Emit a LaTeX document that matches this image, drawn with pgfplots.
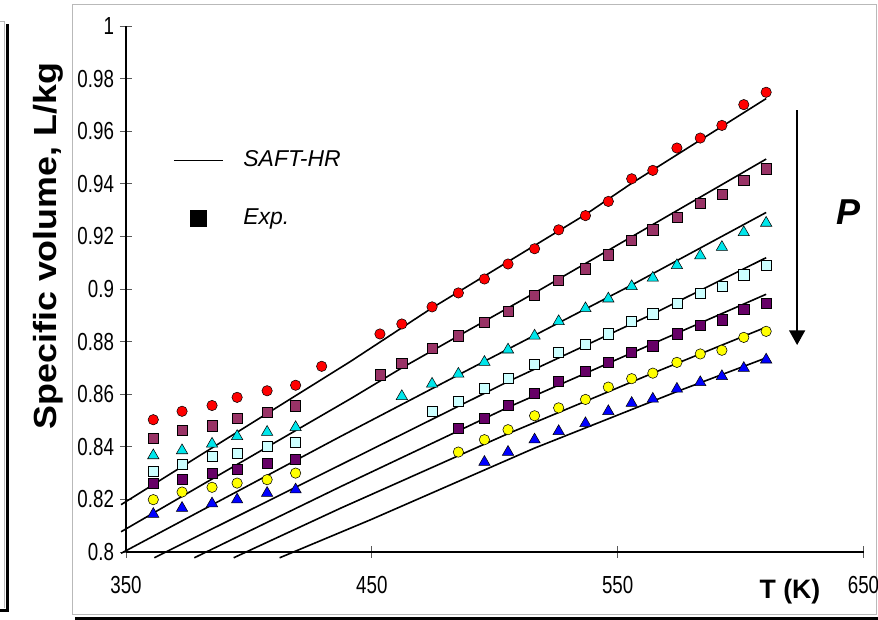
\documentclass[border=0pt]{standalone}
\usepackage{fontspec}
\setmainfont{Liberation Sans}
\newfontfamily\narrowfont[FakeStretch=0.76]{Liberation Sans}
\newfontfamily\ylabfont[FakeStretch=1.12]{Liberation Sans Bold}
\usepackage{pgfplots}
\pgfplotsset{compat=1.18}
\usepackage{pgfplotstable}
\usetikzlibrary{arrows.meta}

% Experimental specific volumes (T in K, v in L/kg), one table per pressure
\pgfplotstableread{
T v
361.1 0.8503
372.8 0.8535
385.0 0.8557
395.2 0.8588
407.4 0.8613
419.0 0.8634
429.6 0.8706
453.3 0.8829
462.2 0.8867
474.5 0.8932
485.2 0.8985
495.8 0.9038
505.4 0.9095
516.2 0.9153
526.0 0.9225
536.9 0.9279
546.2 0.9333
555.7 0.9419
564.3 0.9451
574.1 0.9536
583.6 0.9574
592.4 0.9622
601.3 0.9701
610.4 0.9748
}\expA
\pgfplotstableread{
T v
361.1 0.8433
372.8 0.8462
385.0 0.8480
395.2 0.8509
407.4 0.8532
419.0 0.8556
453.3 0.8674
462.2 0.8718
474.5 0.8776
485.2 0.8822
495.8 0.8875
505.4 0.8915
516.2 0.8976
526.0 0.9032
536.9 0.9077
546.2 0.9130
555.7 0.9184
564.3 0.9225
574.1 0.9272
583.6 0.9327
592.4 0.9359
601.3 0.9413
610.4 0.9457
}\expB
\pgfplotstableread{
T v
361.1 0.8367
372.8 0.8386
385.0 0.8411
395.2 0.8440
407.4 0.8456
419.0 0.8474
462.2 0.8592
474.5 0.8639
485.2 0.8677
495.8 0.8722
505.4 0.8769
516.2 0.8822
526.0 0.8877
536.9 0.8926
546.2 0.8963
555.7 0.9010
564.3 0.9042
574.1 0.9090
583.6 0.9127
592.4 0.9159
601.3 0.9215
610.4 0.9251
}\expC
\pgfplotstableread{
T v
361.1 0.8306
372.8 0.8332
385.0 0.8364
395.2 0.8376
407.4 0.8402
419.0 0.8417
474.5 0.8535
485.2 0.8573
495.8 0.8621
505.4 0.8659
516.2 0.8715
526.0 0.8759
536.9 0.8790
546.2 0.8830
555.7 0.8876
564.3 0.8906
574.1 0.8946
583.6 0.8984
592.4 0.9010
601.3 0.9054
610.4 0.9089
}\expD
\pgfplotstableread{
T v
361.1 0.8262
372.8 0.8275
385.0 0.8300
395.2 0.8313
407.4 0.8338
419.0 0.8354
485.2 0.8469
495.8 0.8509
505.4 0.8557
516.2 0.8605
526.0 0.8649
536.9 0.8688
546.2 0.8721
555.7 0.8759
564.3 0.8784
574.1 0.8830
583.6 0.8862
592.4 0.8883
601.3 0.8924
610.4 0.8947
}\expE
\pgfplotstableread{
T v
361.1 0.8199
372.8 0.8228
385.0 0.8246
395.2 0.8262
407.4 0.8275
419.0 0.8300
485.2 0.8380
495.8 0.8427
505.4 0.8465
516.2 0.8518
526.0 0.8548
536.9 0.8580
546.2 0.8627
555.7 0.8659
564.3 0.8680
574.1 0.8721
583.6 0.8753
592.4 0.8767
601.3 0.8816
610.4 0.8839
}\expF
\pgfplotstableread{
T v
361.1 0.8144
372.8 0.8167
385.0 0.8184
395.2 0.8199
407.4 0.8224
419.0 0.8237
495.8 0.8342
505.4 0.8380
516.2 0.8427
526.0 0.8459
536.9 0.8489
546.2 0.8535
555.7 0.8566
564.3 0.8582
574.1 0.8620
583.6 0.8645
592.4 0.8668
601.3 0.8699
610.4 0.8731
}\expG

\definecolor{cRed}{RGB}{255,0,0}
\definecolor{cPlum}{RGB}{153,51,102}
\definecolor{cTurq}{RGB}{0,230,235}
\definecolor{cIce}{RGB}{204,255,255}
\definecolor{cViolet}{RGB}{102,0,102}
\definecolor{cYellow}{RGB}{255,255,0}
\definecolor{cBlue}{RGB}{0,0,255}

\pgfplotsset{
  saft/.style={black, line width=1.2pt, no marks, forget plot},
  expt/.style={only marks, forget plot, mark options={draw=black, line width=0.7pt}},
}

\begin{document}
\begin{tikzpicture}
% page frame: 878 x 620 px at 0.75 pt per px
\useasboundingbox (0pt,0pt) rectangle (658.5pt,465pt);
% chart border with its shadow
\draw[gray!55, line width=0.6pt] (54.5pt,4.1pt) rectangle (657.4pt,461.5pt);
\fill[black] (56.3pt,0pt) rectangle (658.5pt,2.3pt);
% edge of the neighbouring panel and its shadow
\draw[gray!55, line width=0.6pt] (0pt,448.7pt) -- (3.5pt,448.7pt) -- (3.5pt,9pt);
\fill[black] (4.5pt,6pt) rectangle (6.4pt,447pt);
\fill[black] (0pt,6pt) rectangle (6.4pt,8.6pt);

\begin{axis}[
  at={(94.5pt,51pt)}, anchor=south west,
  scale only axis, width=553.125pt, height=394.5pt,
  xmin=350, xmax=650, ymin=0.8, ymax=1,
  clip=false,
  axis x line=bottom, axis y line=left,
  axis line style={-, black, line width=0.8pt},
  tick align=center,
  major tick length=9pt,
  major tick style={gray!70!black, line width=0.6pt},
  xtick={350,450,550,650},
  xticklabels={350,450,550,650},
  ytick={0.8,0.82,0.84,0.86,0.88,0.9,0.92,0.94,0.96,0.98,1},
  yticklabels={0.8,0.82,0.84,0.86,0.88,0.9,0.92,0.94,0.96,0.98,1},
  ticklabel style={font=\narrowfont\fontsize{18.5}{20}\selectfont},
  xticklabel style={anchor=north, yshift=-10pt},
  yticklabel style={anchor=east, xshift=-1pt},
  xlabel={T (K)},
  xlabel style={at={(axis cs:620.1,0.7848)}, anchor=center,
    font=\bfseries\fontsize{20}{22}\selectfont},
  ylabel={Specific volume, L/kg},
  ylabel style={at={(axis cs:318.5,0.9163)}, anchor=center,
    font=\ylabfont\fontsize{24}{26}\selectfont},
  legend cell align=left,
  legend style={at={(axis cs:369.1,0.9529)}, anchor=north west,
    draw=none, fill=none, inner sep=0pt, row sep=27pt, column sep=15pt,
    font=\itshape\fontsize{17.2}{19}\selectfont,
    nodes={inner sep=0pt, text height=12.5pt, text depth=3.5pt}},
]
\addlegendimage{legend image code/.code={\draw[black, line width=0.9pt] (0pt,0pt) -- (36.75pt,0pt);}}
\addlegendentry{SAFT-HR}
\addlegendimage{legend image code/.code={\draw[only marks, mark=square*, mark size=6pt, draw=black, fill=black] plot coordinates {(18.4pt,0pt)};}}
\addlegendentry{Exp.}

% SAFT-HR isobars
\addplot[saft] coordinates {(348,0.8180) (441.4,0.8725) (474.5,0.8928) (536.9,0.9283) (555.7,0.9402) (610.4,0.9724)};
\addplot[saft] coordinates {(348,0.8077) (441.4,0.8583) (462.2,0.8700) (516.2,0.8985) (564.3,0.9245) (610.4,0.9494)};
\addplot[saft] coordinates {(348,0.7995) (437.4,0.8440) (495.8,0.8725) (555.7,0.9015) (610.4,0.9291)};
\addplot[saft] coordinates {(361.5,0.7978) (437.4,0.8332) (505.4,0.8648) (564.3,0.8905) (610.4,0.9119)};
\addplot[saft] coordinates {(377.8,0.7978) (437.4,0.8249) (505.4,0.8550) (564.3,0.8792) (610.4,0.8980)};
\addplot[saft] coordinates {(393.8,0.7978) (437.4,0.8167) (505.4,0.8450) (564.3,0.8680) (610.4,0.8855)};
\addplot[saft] coordinates {(412.5,0.7978) (449.6,0.8123) (516.2,0.8395) (574.1,0.8610) (610.4,0.8738)};

% experimental points
\addplot[expt, mark=*, mark size=3.9pt, mark options={fill=cRed}] table {\expA};
\addplot[expt, mark=square*, mark size=3.8pt, mark options={fill=cPlum}] table {\expB};
\addplot[expt, mark=triangle*, mark size=4.9pt, mark options={fill=cTurq}] table {\expC};
\addplot[expt, mark=square*, mark size=3.8pt, mark options={fill=cIce}] table {\expD};
\addplot[expt, mark=square*, mark size=3.8pt, mark options={fill=cViolet}] table {\expE};
\addplot[expt, mark=*, mark size=3.9pt, mark options={fill=cYellow}] table {\expF};
\addplot[expt, mark=triangle*, mark size=4.9pt, mark options={fill=cBlue}] table {\expG};

% pressure increases downwards
\draw[line width=1.1pt, -{Triangle[width=12pt,length=11pt]}]
  (axis cs:623,0.968) -- (axis cs:623,0.8787);
\node[font=\bfseries\itshape\fontsize{27}{30}\selectfont] at (axis cs:644.1,0.9293) {P};
\end{axis}
\end{tikzpicture}
\end{document}
